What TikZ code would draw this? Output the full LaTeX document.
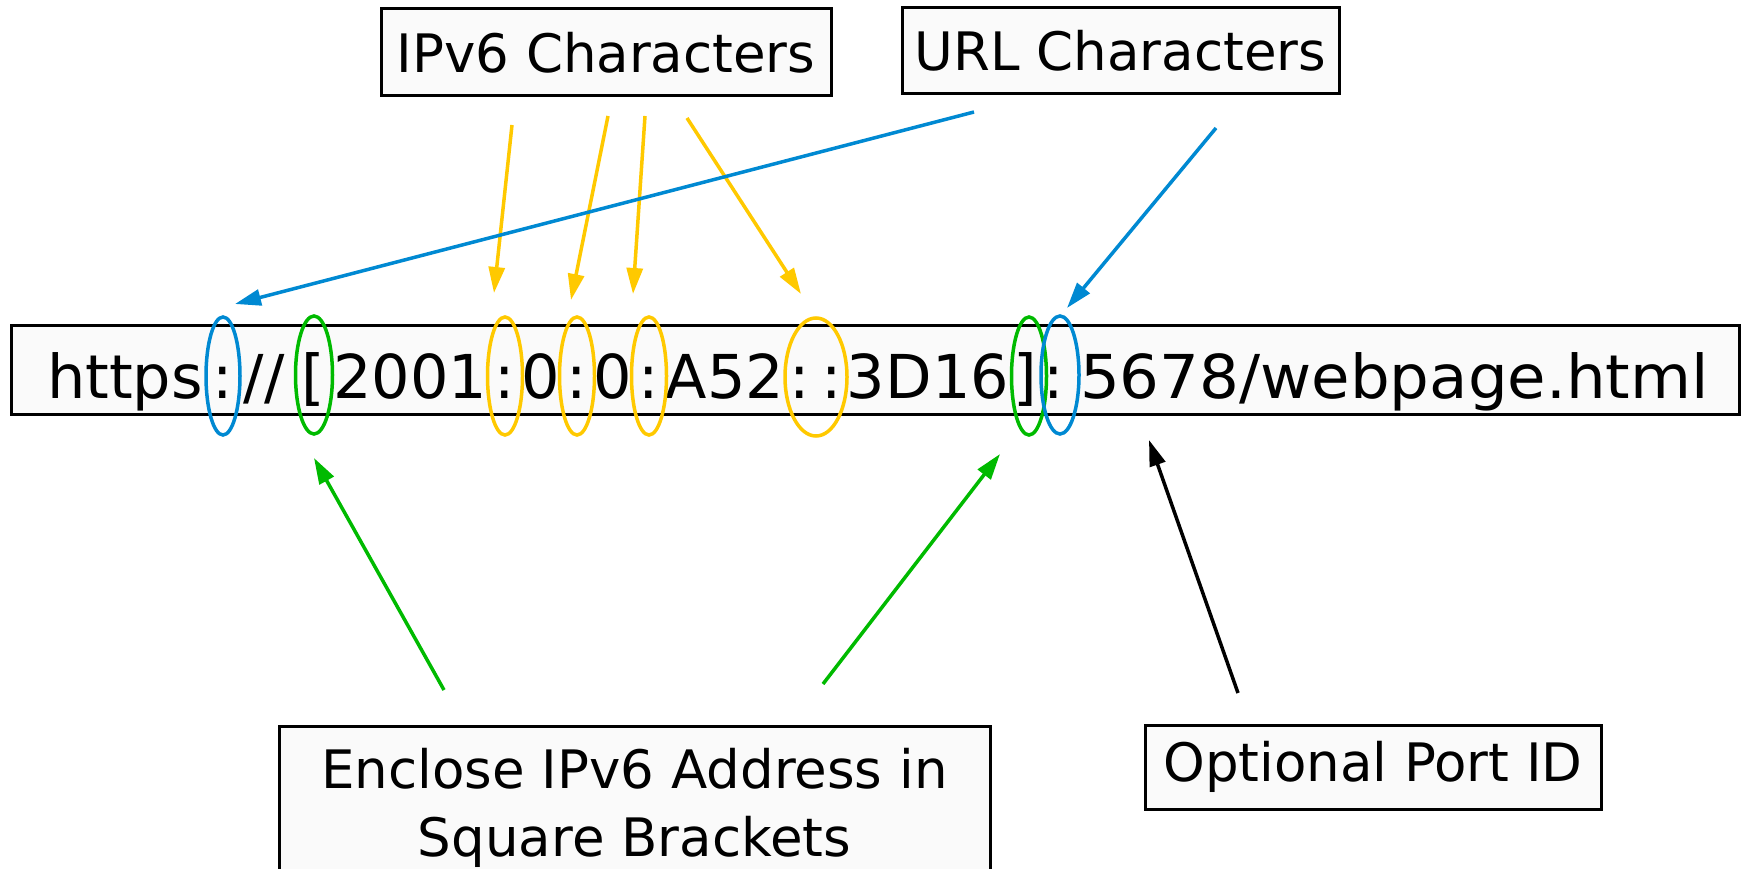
\documentclass[tikz,border=0pt]{standalone}
\usepackage{fontspec}
\setmainfont{DejaVu Sans}
\usetikzlibrary{arrows.meta,shapes.geometric}
\definecolor{ublue}{RGB}{0,137,210}
\definecolor{uyellow}{RGB}{255,201,0}
\definecolor{ugreen}{RGB}{0,186,0}
\definecolor{boxfill}{RGB}{250,250,250}
\begin{document}
\begin{tikzpicture}[x=1pt,y=-1pt,
  labelbox/.style={draw=black,line width=3pt,fill=boxfill,inner sep=0pt,font=\fontsize{53}{68}\selectfont},
  urlseg/.style={inner sep=0pt,outer sep=0pt,anchor=base,font=\fontsize{60.5}{70}\selectfont},
  ring/.style={ellipse,draw,line width=3.5pt,inner sep=0pt,minimum height=118pt},
  pointer/.style={line width=3.5pt,-{Triangle[length=26pt,width=16pt]}},
]
\useasboundingbox (0,0) rectangle (1741,869);
\clip (0,0) rectangle (1741,869);
\fill[white] (0,0) rectangle (1741,869);

% label boxes
\node[labelbox, minimum width=450pt, minimum height=87pt] (ipv6) at (606,52.5) {IPv6 Characters};
\node[labelbox, minimum width=437pt, minimum height=86pt] (urlc) at (1120.5,51) {URL Characters};
\node[labelbox, minimum width=456pt, minimum height=84pt] (port) at (1373,767) {Optional Port ID};
\node[labelbox, align=center, anchor=north, minimum width=711pt, inner ysep=22pt] (encl) at (634.5,725) {Enclose IPv6 Address in\\Square Brackets};

% URL box
\node[draw=black, line width=3pt, fill=boxfill, minimum width=1728pt, minimum height=89pt, inner sep=0pt] (urlbox) at (875,369.5) {};

% URL text segments
\node[urlseg, anchor=base west] (s1) at (47,398) {https};
\node[urlseg] (s2) at (223,398) {:};
\node[urlseg] (s3) at (264,398) {//};
\node[urlseg] (s4) at (313,398) {[};
\node[urlseg] (s5) at (410.5,398) {2001};
\node[urlseg] (s6) at (505,398) {:};
\node[urlseg] (s7) at (541,398) {0};
\node[urlseg] (s8) at (577,398) {:};
\node[urlseg] (s9) at (612.5,398) {0};
\node[urlseg] (s10) at (649,398) {:};
\node[urlseg] (s11) at (725,398) {A52};
\node[urlseg] (s12) at (800,398) {:};
\node[urlseg] (s13) at (832,398) {:};
\node[urlseg] (s14) at (928,398) {3D16};
\node[urlseg] (s15) at (1025,398) {]};
\node[urlseg] (s16) at (1054,398) {:};
\node[urlseg, anchor=base west] (s17) at (1080,398) {\scalebox{1.035}[1]{5678/webpage.html}};

% ellipses
\node[ring, draw=ublue, minimum width=34pt] (e1) at (223,376) {};
\node[ring, draw=ugreen, minimum width=37pt] (e2) at (314,375) {};
\node[ring, draw=uyellow, minimum width=35pt] (e3) at (505,376) {};
\node[ring, draw=uyellow, minimum width=35pt] (e4) at (577,376) {};
\node[ring, draw=uyellow, minimum width=35pt] (e5) at (649,376) {};
\node[ring, draw=uyellow, minimum width=62pt] (e6) at (816,377) {};
\node[ring, draw=ugreen, minimum width=35pt] (e7) at (1029,376) {};
\node[ring, draw=ublue, minimum width=38pt] (e8) at (1060,375) {};

% arrow end points
\coordinate (y1s) at (512,125); \coordinate (y1e) at (494,293);
\coordinate (y2s) at (608,116); \coordinate (y2e) at (571,300);
\coordinate (y3s) at (645,116); \coordinate (y3e) at (633,294);
\coordinate (y4s) at (687,118); \coordinate (y4e) at (801,294);
\coordinate (b1s) at (974,112); \coordinate (b1e) at (235,304);
\coordinate (b2s) at (1216,128); \coordinate (b2e) at (1067,308);
\coordinate (g1s) at (444,690); \coordinate (g1e) at (314,458);
\coordinate (g2s) at (823,684); \coordinate (g2e) at (1000,454);
\coordinate (k1s) at (1238,693); \coordinate (k1e) at (1149,440);

\draw[pointer, uyellow] (y1s) -- (y1e);
\draw[pointer, uyellow] (y2s) -- (y2e);
\draw[pointer, uyellow] (y3s) -- (y3e);
\draw[pointer, uyellow] (y4s) -- (y4e);
\draw[pointer, ublue] (b1s) -- (b1e);
\draw[pointer, ublue] (b2s) -- (b2e);
\draw[pointer, ugreen] (g1s) -- (g1e);
\draw[pointer, ugreen] (g2s) -- (g2e);
\draw[pointer, black] (k1s) -- (k1e);
\end{tikzpicture}
\end{document}
